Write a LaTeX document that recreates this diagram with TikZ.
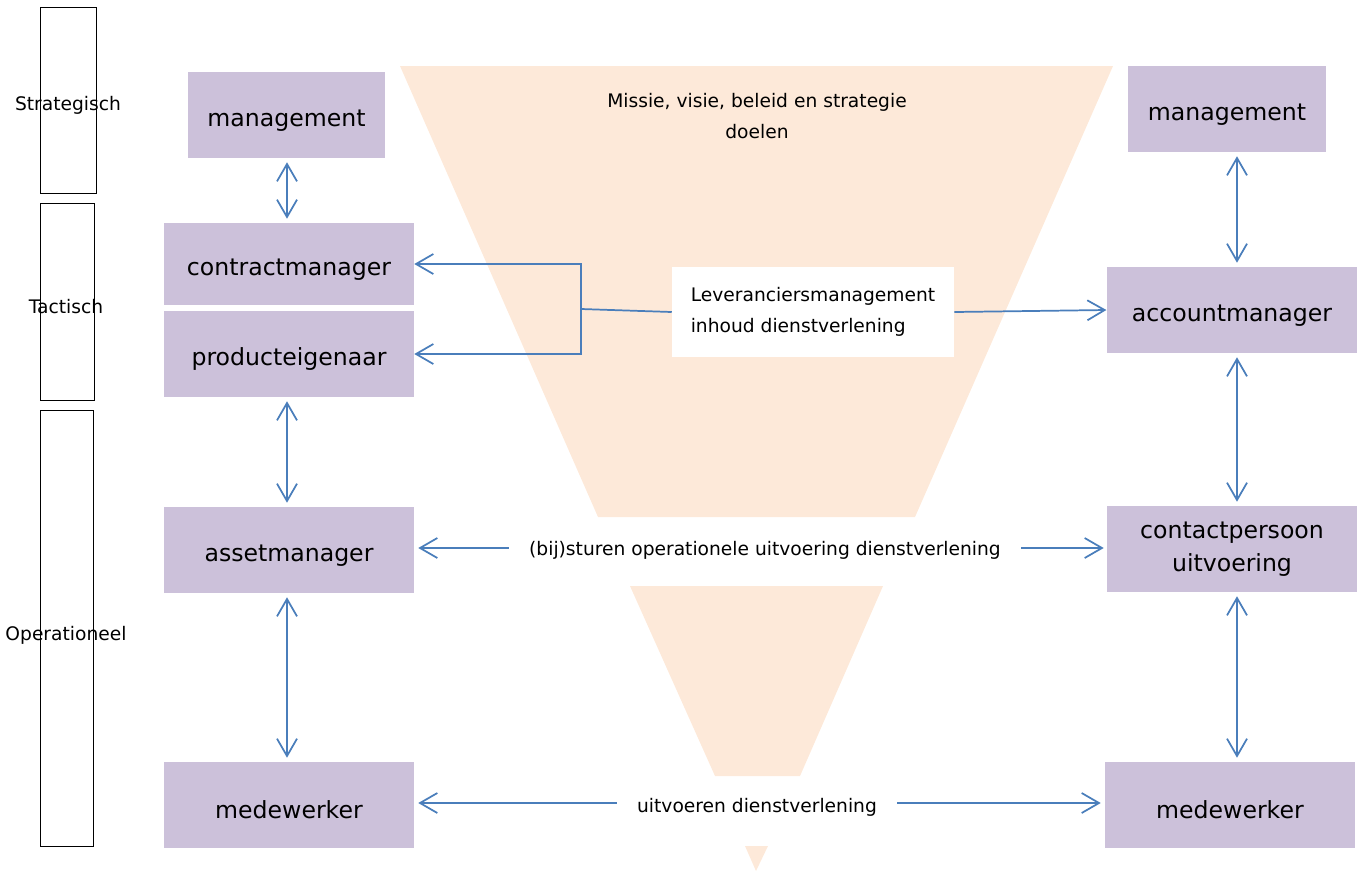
\documentclass[tikz,border=0pt]{standalone}
\usepackage{fontspec}
\setmainfont{DejaVu Sans}
\usetikzlibrary{positioning,arrows.meta}
\definecolor{lila}{HTML}{CCC1DA}
\definecolor{perzik}{HTML}{FDE9D9}
\definecolor{lijn}{HTML}{4A7EBB}

\begin{document}
\begin{tikzpicture}[
  x=0.75pt, y=-0.75pt,
  every node/.style={font=\fontsize{14}{23.5}\selectfont, align=center, inner sep=0pt},
  role/.style={fill=lila, minimum width=187.5pt, minimum height=64.5pt,
               font=\fontsize{17.7}{24.5}\selectfont,
               execute at begin node={\rule{0pt}{21pt}}},
  level/.style={draw, line width=0.75pt},
  funnel/.style={fill=perzik},
  arr/.style={draw=lijn, line width=1.3pt, -{Straight Barb[length=13pt,width=15pt]}},
  dbl/.style={arr, {Straight Barb[length=13pt,width=15pt]}-{Straight Barb[length=13pt,width=15pt]},
              shorten <=3pt, shorten >=3pt}
]
\useasboundingbox (0,0) rectangle (1359,872);

% trechters
\fill[funnel] (400,66) -- (1113,66) -- (915,517) -- (598,517) -- cycle;
\fill[funnel] (630,586) -- (883,586) -- (800,776) -- (715,776) -- cycle;
\fill[funnel] (745,846) -- (768,846) -- (756,871) -- cycle;

% niveaus
\node[level, minimum width=42pt, minimum height=139.5pt] (strat) at (68,100) {};
\node[level, minimum width=40.5pt, minimum height=147.75pt] (tact) at (67,301.5) {};
\node[level, minimum width=39.75pt, minimum height=327pt] (oper) at (66.5,628) {};
\node (stratlbl) at (68,105) {Strategisch};
\node (tactlbl) at (66,307) {Tactisch};
\node (operlbl) at (66,635) {Operationeel};

% opdrachtgever
\node[role, minimum width=148pt] (mgmtL) at (286.5,115) {management};
\node[role, minimum height=61.5pt] (contract) at (289,264) {contractmanager};
\node[role] (product) at (289,354) {producteigenaar};
\node[role] (asset) at (289,550) {assetmanager};
\node[role] (workerL) at (289,805) {medewerker};

% opdrachtnemer
\node[role, minimum width=148.5pt] (mgmtR) at (1227,109) {management};
\node[role, minimum width=188pt] (account) at (1232,310) {accountmanager};
\node[role, minimum width=188pt] (contact) at (1232,549) {contactpersoon\\uitvoering};
\node[role] (workerR) at (1230,805) {medewerker};

% teksten
\node (mission) at (757,116) {Missie, visie, beleid en strategie\\doelen};
\node[fill=white, minimum width=211.5pt, minimum height=67.5pt, align=left] (lev) at (813,312)
  {Leveranciersmanagement\\inhoud dienstverlening};
\node[inner sep=15pt] (steer) at (765,550) {(bij)sturen operationele uitvoering dienstverlening};
\node[inner sep=15pt] (exec) at (757,807) {uitvoeren dienstverlening};

\coordinate (lcol) at (287,0);
\coordinate (rcol) at (1237,0);
\coordinate (split) at (581,309);
\coordinate (steerL) at ([yshift=1.5pt]steer.west);
\coordinate (steerR) at ([yshift=1.5pt]steer.east);
\coordinate (execL) at ([yshift=3pt]exec.west);
\coordinate (execR) at ([yshift=3pt]exec.east);

% verbindingen
\draw[dbl] (lcol |- mgmtL.south) -- (lcol |- contract.north);
\draw[dbl] (lcol |- product.south) -- (lcol |- asset.north);
\draw[dbl] (lcol |- asset.south) -- (lcol |- workerL.north);
\draw[dbl] (rcol |- mgmtR.south) -- (rcol |- account.north);
\draw[dbl] (rcol |- account.south) -- (rcol |- contact.north);
\draw[dbl] (rcol |- contact.south) -- (rcol |- workerR.north);

\draw[draw=lijn, line width=1.3pt] (lev.west) -- (split);
\draw[arr] (split) |- (contract.east);
\draw[arr] (split) |- (product.east);
\draw[arr] (lev.east) -- (account.west);
\draw[arr, shorten >=3pt] (steerL) -- (steerL -| asset.east);
\draw[arr, shorten >=2pt] (steerR) -- (steerR -| contact.west);
\draw[arr, shorten >=3pt] (execL) -- (execL -| workerL.east);
\draw[arr, shorten >=3pt] (execR) -- (execR -| workerR.west);
\end{tikzpicture}
\end{document}
